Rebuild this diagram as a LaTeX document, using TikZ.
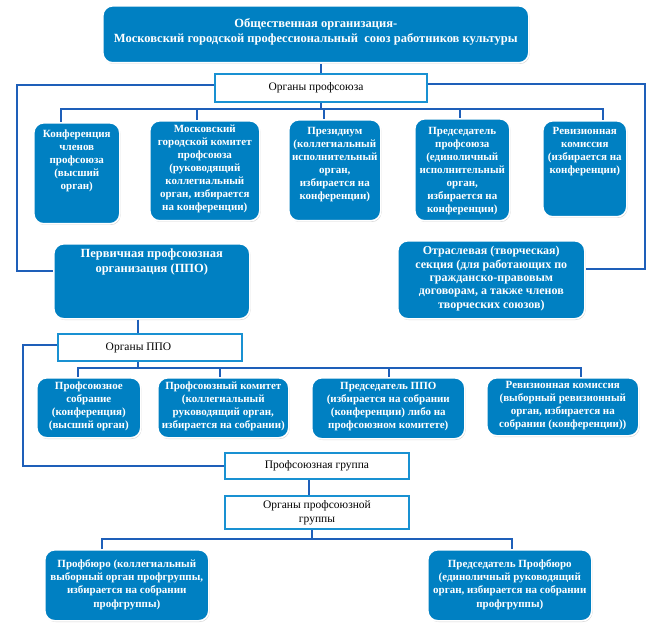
\documentclass[tikz,border=0pt]{standalone}
\usepackage{fontspec}
\setmainfont{Liberation Serif}
\usetikzlibrary{calc,shadows}
\definecolor{boxblue}{RGB}{0,128,194}
\definecolor{wire}{RGB}{30,95,185}
\definecolor{wborder}{RGB}{25,145,210}
\newcommand{\bxt}[4]{\parbox[c][#2pt][t]{#1pt}{\centering\vspace*{#3pt}\strut #4\par}}
\tikzset{
  bbox/.style={rectangle, rounded corners=10pt, fill=boxblue, draw=white, line width=1.6pt,
    drop shadow={shadow xshift=0.8pt, shadow yshift=-1.2pt, opacity=0.35, fill=gray},
    text=white, font=\bfseries\fontsize{11}{13}\selectfont, inner sep=0pt, anchor=north west},
  wbox/.style={rectangle, fill=white, draw=wborder, line width=2pt,
    font=\fontsize{11.5}{14}\selectfont, inner sep=0pt, anchor=north west, align=center},
  conn/.style={draw=wire, line width=1.9pt}
}
\begin{document}
\begin{tikzpicture}[x=1pt,y=-1pt]
\useasboundingbox (0,0) rectangle (662,623);
% top
\node[bbox, font=\bfseries\fontsize{12.5}{15}\selectfont] (top) at (102,5)
  {\bxt{426}{57}{11.5}{Общественная организация-\\Московский городской профессиональный\ \ союз работников культуры}};
\node[wbox, minimum width=212pt, minimum height=28pt] (orgs) at (214,73) {Органы профсоюза\hspace*{10pt}};
% row 1
\node[bbox] (k1) at (33,122) {\bxt{86}{101}{5.4}{Конференция\\членов\\профсоюза\\(высший\\орган)}};
\node[bbox] (k2) at (149,120) {\bxt{110}{100}{2.4}{Московский\\городской комитет\\профсоюза\\(руководящий\\коллегиальный\\орган, избирается\\на конференции)}};
\node[bbox] (k3) at (288,119) {\bxt{92}{101}{5.4}{Президиум\\(коллегиальный\\исполнительный\\орган,\\избирается на\\конференции)}};
\node[bbox] (k4) at (414,118) {\bxt{95}{102}{6.4}{Председатель\\профсоюза\\(единоличный\\исполнительный\\орган,\\избирается на\\конференции)}};
\node[bbox] (k5) at (542,120) {\bxt{84}{96}{4.4}{Ревизионная\\комиссия\\(избирается на\\конференции)}};
% PPO and section
\node[bbox, font=\bfseries\fontsize{12.5}{14.5}\selectfont] (ppo) at (53,243)
  {\bxt{196}{75}{3.9}{Первичная профсоюзная\\организация (ППО)}};
\node[bbox, font=\bfseries\fontsize{12}{13.3}\selectfont] (otr) at (397,240)
  {\bxt{187}{78}{4.7}{Отраслевая (творческая)\\секция (для работающих по\\гражданско-правовым\\договорам, а также членов\\творческих союзов)}};
\node[wbox, minimum width=184pt, minimum height=27pt] (oppo) at (57,333) {Органы ППО\hspace*{23pt}};
% PPO row
\node[bbox] (p1) at (36,377) {\bxt{104}{60}{2.4}{Профсоюзное\\собрание\\(конференция)\\(высший орган)}};
\node[bbox] (p2) at (157,377) {\bxt{131}{60}{2.4}{Профсоюзный комитет\\(коллегиальный\\руководящий орган,\\избирается на собрании)}};
\node[bbox] (p3) at (311,377) {\bxt{153}{61}{2.4}{Председатель ППО\\(избирается на собрании\\(конференции) либо на\\профсоюзном комитете)}};
\node[bbox] (p4) at (486,377) {\bxt{152}{58}{1.4}{Ревизионная комиссия\\(выборный ревизионный\\орган, избирается на\\собрании (конференции))}};
% group
\node[wbox, minimum width=184pt, minimum height=26pt] (grp) at (224,452) {Профсоюзная группа};
\node[wbox, minimum width=184pt, minimum height=33pt] (ogrp) at (224,495) {Органы профсоюзной\\группы};
% bottom
\node[bbox, font=\bfseries\fontsize{11}{13.3}\selectfont] (b1) at (44,549)
  {\bxt{164}{71}{8.2}{Профбюро (коллегиальный\\выборный орган профгруппы,\\избирается на собрании\\профгруппы)}};
\node[bbox, font=\bfseries\fontsize{11}{13.3}\selectfont] (b2) at (427,549)
  {\bxt{164}{71}{8.2}{Председатель Профбюро\\(единоличный руководящий\\орган, избирается на собрании\\профгруппы)}};
% coordinates
\coordinate (lx) at (17,0);
\coordinate (rx) at (645,0);
\coordinate (lx2) at (23,0);
\coordinate (bus1) at (0,109);
\coordinate (bus2) at (0,368);
\coordinate (bus3) at (0,539);
\coordinate (pin) at ($(ppo.west)+(0,-10.5)$);
\coordinate (oin) at ($(otr.east)+(0,-11)$);
\coordinate (owl) at ($(orgs.west)+(0,-3)$);
\coordinate (owr) at ($(orgs.east)+(0,-4)$);
\coordinate (pwl) at ($(oppo.west)+(0,-2.5)$);
\coordinate (d1) at ($(k1.north)+(-16,0)$);
\coordinate (d2) at ($(k2.north)+(-8,0)$);
\coordinate (d3) at ($(k3.north)+(-11,0)$);
\coordinate (d4) at ($(k4.north)+(-2.5,0)$);
\coordinate (d5) at ($(k5.north)+(18,0)$);
\coordinate (pd) at ($(ppo.south)+(-14,0)$);
\coordinate (od) at ($(oppo.south)+(-12,0)$);
\coordinate (e1) at ($(p1.north)+(-11,0)$);
\coordinate (e2) at ($(p2.north)+(-3.5,0)$);
\coordinate (e3) at ($(p3.north)+(0.5,0)$);
\coordinate (e4) at ($(p4.north)+(18,0)$);
\coordinate (gd) at ($(grp.south)+(-8,0)$);
\coordinate (ogd) at ($(ogrp.south)+(-5,0)$);
\coordinate (f1) at ($(b1.north)+(-25,0)$);
\coordinate (f2) at ($(b2.north)+(2,0)$);
% connectors
\draw[conn] (orgs.north) -- (orgs.north |- top.south);
\draw[conn] (owl) -| (lx |- pin) -- (pin);
\draw[conn] (owr) -| (rx |- oin) -- (oin);
\draw[conn] (orgs.south) -- (orgs.south |- bus1);
\draw[conn] (d1) -- (d1 |- bus1) -- (d5 |- bus1) -- (d5);
\draw[conn] (d2) -- (d2 |- bus1);
\draw[conn] (d3) -- (d3 |- bus1);
\draw[conn] (d4) -- (d4 |- bus1);
\draw[conn] (pd) -- (pd |- oppo.north);
\draw[conn] (od) -- (od |- bus2);
\draw[conn] (e1) -- (e1 |- bus2) -- (e4 |- bus2) -- (e4);
\draw[conn] (e2) -- (e2 |- bus2);
\draw[conn] (e3) -- (e3 |- bus2);
\draw[conn] (pwl) -| (lx2 |- grp.west) -- (grp.west);
\draw[conn] (gd) -- (gd |- ogrp.north);
\draw[conn] (ogd) -- (ogd |- bus3);
\draw[conn] (f1) -- (f1 |- bus3) -- (f2 |- bus3) -- (f2);
\end{tikzpicture}
\end{document}
